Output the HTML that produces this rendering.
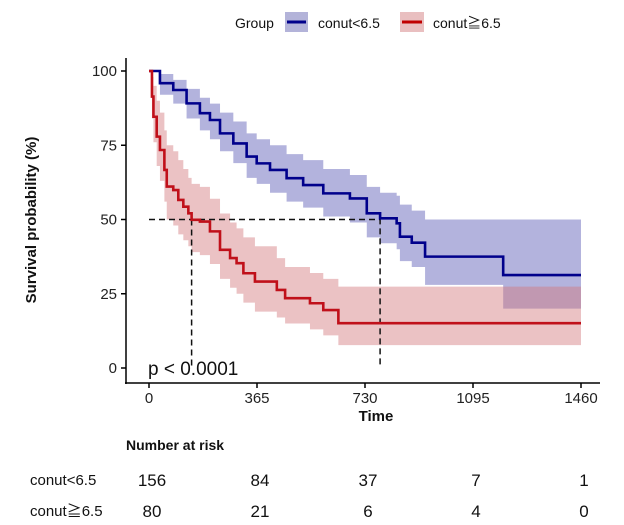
<!DOCTYPE html>
<html><head><meta charset="utf-8"><style>
html,body{margin:0;padding:0;background:#fff}
svg{display:block;font-family:"Liberation Sans","Noto Sans CJK SC",sans-serif}
</style></head><body>
<svg id="chart" width="624" height="525" viewBox="0 0 624 525" xmlns="http://www.w3.org/2000/svg">
<g>
<text x="235" y="28" font-size="14" fill="#111">Group</text>
<rect x="285" y="12" width="23" height="20" fill="#b3b3d9"/>
<line x1="287" y1="22" x2="306" y2="22" stroke="#00008b" stroke-width="3"/>
<text x="318" y="28" font-size="14" fill="#111">conut&lt;6.5</text>
<rect x="400" y="12" width="24" height="20" fill="#e9bfc0"/>
<line x1="402" y1="22" x2="422" y2="22" stroke="#c00000" stroke-width="3"/>
<text x="433" y="28" font-size="14" fill="#111">conut≧6.5</text>
</g>
<text transform="translate(36,220) rotate(-90)" text-anchor="middle" font-size="15" font-weight="bold" fill="#111">Survival probability (%)</text>
<g id="plot"></g>
<line x1="126" y1="58" x2="126" y2="384" stroke="#000" stroke-width="1.5"/>
<line x1="125" y1="383" x2="600" y2="383" stroke="#000" stroke-width="1.5"/>
<g id="ticks"></g>
<text x="376" y="421" text-anchor="middle" font-size="15" font-weight="bold" fill="#111">Time</text>
<text x="148" y="375" font-size="19" fill="#111">p &lt; 0.0001</text>
<text x="126" y="450" font-size="14" font-weight="bold" fill="#111">Number at risk</text>
<text x="30" y="485" font-size="15" fill="#111">conut&lt;6.5</text>
<text x="30" y="516" font-size="15" fill="#111">conut≧6.5</text>
<g id="risk"></g>
</svg>
<script>
const xTicks=[0,365,730,1095,1460];
const yTicks=[0,25,50,75,100];
const lowDays=[0,37,82,127,172,206,240,285,330,364,409,465,521,589,679,736,781,837,848,888,933,1197,1460];
const lowSurv=[100,95.9,93.6,89.1,85.8,83.5,79,75.6,71.2,68.9,66.7,63.9,61.6,58.8,57.1,52.1,50.4,48.7,44.2,42.2,37.5,31.3,31.3];
const lowUpper=[100,99,97,94,91,89,86,83,79,77,75,72,70,67,65,61,59,58,55,53,50,50,50];
const lowLower=[100,92,89,84,80,77,73,69,64,62,59,56,54,51,49,44,42,40,36,34,28,20,20];
const highDays=[0,10,15,26,37,52,60,82,99,116,133,144,172,206,240,274,296,319,358,432,460,544,589,640,1460];
const highSurv=[100,91.4,84.6,77.9,73.4,66.7,61.1,59.9,56.6,54.3,52.1,49.9,49.3,46,39.8,37,35.3,31.9,29.1,26.3,23.5,21.8,19.5,15.1,15.1];
const highUpper=[100,98,95,90,86,80,75,73,70,67,64,62,61,57,52,49,47,44,41,37,34,32,30,27.4,27.4];
const highLower=[100,84,76,68,63,56,50,48,45,43,41,39,38,35,30,27,25,22,19,17,15,13,11,7.7,7.7];
const riskLow=[156,84,37,7,1];
const riskHigh=[80,21,6,4,0];
const medianLow=781, medianHigh=144;

const X=d=>149+d*(432/1460);
const Y=v=>368-v*2.97;
const NS="http://www.w3.org/2000/svg";
function mk(tag,parent,attrs){const e=document.createElementNS(NS,tag);for(const k in attrs)e.setAttribute(k,attrs[k]);parent.appendChild(e);return e;}
function stepPts(days,vals){let p=[];for(let i=0;i<days.length;i++){if(i>0)p.push([X(days[i]),Y(vals[i-1])]);p.push([X(days[i]),Y(vals[i])]);}return p;}
const plot=document.getElementById('plot');
function band(days,up,lo,fill,name){
  const u=stepPts(days,up), l=stepPts(days,lo).reverse();
  const el=mk('polygon',plot,{points:u.concat(l).map(p=>p.join(',')).join(' '),fill:fill});
  
  
}
function line(days,vals,col,name){
  const el=mk('polyline',plot,{points:stepPts(days,vals).map(p=>p.join(',')).join(' '),fill:'none',stroke:col,'stroke-width':2.6});
  
  
}
band(lowDays,lowUpper,lowLower,'rgba(110,110,190,0.52)','ci-band-low');
band(highDays,highUpper,highLower,'rgba(210,120,125,0.45)','ci-band-high');
const med=mk('path',plot,{d:`M${X(0)},${Y(50)}H${X(medianLow)}V${Y(0)}M${X(medianHigh)},${Y(50)}V${Y(0)}`,fill:'none',stroke:'#111','stroke-width':1.5,'stroke-dasharray':'6,4'});


line(lowDays,lowSurv,'#00008b','curve-conut-low');
line(highDays,highSurv,'#c0101a','curve-conut-high');

const tk=document.getElementById('ticks');
xTicks.forEach(t=>{
  mk('line',tk,{x1:X(t),x2:X(t),y1:383,y2:388,stroke:'#000','stroke-width':1.5});
  const tx=mk('text',tk,{x:X(t),y:403,'text-anchor':'middle','font-size':15,fill:'#222'});tx.textContent=t;
  
  
});
yTicks.forEach(t=>{
  mk('line',tk,{x1:121,x2:126,y1:Y(t),y2:Y(t),stroke:'#000','stroke-width':1.5});
  const tx=mk('text',tk,{x:117,y:Y(t)+5,'text-anchor':'end','font-size':15,fill:'#222'});tx.textContent=t;
  
  
});
const rk=document.getElementById('risk');
xTicks.forEach((t,i)=>{
  const a=mk('text',rk,{x:X(t)+3,y:486,'text-anchor':'middle','font-size':17,fill:'#111'});a.textContent=riskLow[i];
  
  
  const b=mk('text',rk,{x:X(t)+3,y:517,'text-anchor':'middle','font-size':17,fill:'#111'});b.textContent=riskHigh[i];
  
  
});
</script>
</body></html>
